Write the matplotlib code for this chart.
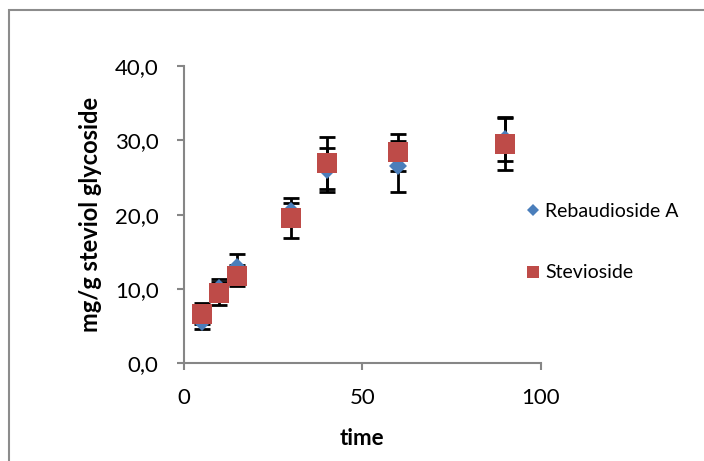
import matplotlib
matplotlib.use("Agg")
import matplotlib.pyplot as plt
from matplotlib.patches import Rectangle

time = [5, 10, 15, 30, 40, 60, 90]
reb_a = [5.55, 10.1, 12.9, 20.45, 26.0, 26.5, 30.2]
reb_a_err = [0.95, 1.2, 1.8, 1.15, 3.0, 3.4, 3.0]
stevioside = [6.7, 9.45, 11.8, 19.55, 26.9, 28.4, 29.55]
stevioside_err = [1.4, 1.55, 1.4, 2.75, 3.5, 2.5, 3.5]

xticks = [0, 50, 100]
yticks = [0, 10, 20, 30, 40]
ytick_labels = ["0,0", "10,0", "20,0", "30,0", "40,0"]

plt.rcParams['font.family'] = ['Lato', 'DejaVu Sans']

W, H = 704, 461
fig = plt.figure(figsize=(W / 100, H / 100), dpi=100)
fig.patch.set_facecolor('white')

# outer chart frame
fig.patches.append(Rectangle((8.5 / W, -0.1), 1.2, 1.1 - 10.5 / H, transform=fig.transFigure,
                             fill=False, edgecolor='#8c8c8c', linewidth=1.5))

ax = fig.add_axes([183.7 / W, 1 - 363.3 / H, (540.7 - 183.7) / W, (363.3 - 66) / H])

blue = '#4a7ebb'
red = '#be4b48'

ax.errorbar(time, reb_a, yerr=reb_a_err, fmt='none', ecolor='black', elinewidth=2,
            capsize=6, capthick=2, zorder=2)
ax.errorbar(time, stevioside, yerr=stevioside_err, fmt='none', ecolor='black', elinewidth=2,
            capsize=6, capthick=2, zorder=2)
ax.plot(time, reb_a, linestyle='none', marker='D', markersize=9.5, color=blue,
        markeredgewidth=0, label='Rebaudioside A', zorder=3)
ax.plot(time, stevioside, linestyle='none', marker='s', markersize=14.5, color=red,
        markeredgewidth=0, label='Stevioside', zorder=4)

ax.set_xlim(0, 100)
ax.set_ylim(0, 40)
ax.set_xticks(xticks)
ax.set_yticks(yticks)
ax.set_yticklabels(ytick_labels)

for s in ['top', 'right']:
    ax.spines[s].set_visible(False)
for s in ['left', 'bottom']:
    ax.spines[s].set_color('#868686')
    ax.spines[s].set_linewidth(1.5)
ax.tick_params(axis='both', direction='out', length=5, width=1.5, color='#868686',
               labelsize=16, labelcolor='black')
ax.tick_params(axis='y', pad=13)
ax.tick_params(axis='x', pad=13)

ax.set_xlabel('time', fontsize=16, fontweight='bold', labelpad=14)
ax.set_ylabel('mg/g steviol glycoside', fontsize=17, fontweight='bold', labelpad=9)

handles, labels = ax.get_legend_handles_labels()
leg = fig.legend(handles, labels, loc='center left', bbox_to_anchor=(510 / W, 1 - 242 / H),
                 frameon=False, fontsize=14, handlelength=0.6, handletextpad=0.3,
                 labelspacing=2.3, markerscale=0.6)

fig.savefig('out.png', dpi=100, facecolor='white')
